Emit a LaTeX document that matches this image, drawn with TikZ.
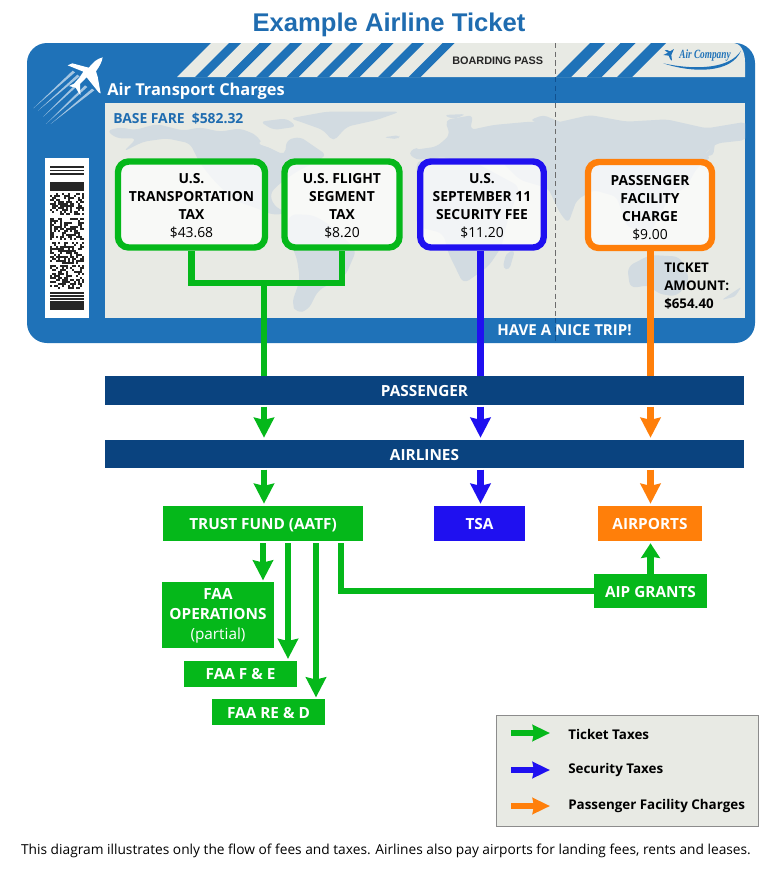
\documentclass[tikz,border=0pt]{standalone}
\usepackage{fontspec}
\usepackage{graphicx}
\setmainfont{Open Sans}
\newfontfamily\arialf{Liberation Sans}
\newfontfamily\logof{Liberation Serif}
\usetikzlibrary{arrows.meta}
\definecolor{tktblue}{HTML}{1F72B8}
\definecolor{cream}{HTML}{E8EAE4}
\definecolor{landc}{HTML}{D2DBE1}
\definecolor{navy}{HTML}{0A437F}
\definecolor{gr}{HTML}{05B81A}
\definecolor{bl}{HTML}{1F10F0}
\definecolor{orng}{HTML}{FF7F0A}
\definecolor{titleblue}{HTML}{1F6CB0}
\newcommand\liftline[1]{\rule{0pt}{#1pt}}
\tikzset{
  boxsize/.style 2 args={minimum width=#1*0.75pt,minimum height=#2*0.75pt,inner sep=0pt},
  chargebox/.style={draw=#1,line width=4.8pt,rounded corners=8pt,fill=white,fill opacity=.72,text opacity=1,
    align=center,font=\fontsize{10.4}{13.5}\selectfont,text=black},
  oneline/.style={text height=9.7pt,text depth=0pt},
  bar/.style={fill=navy,text=white,oneline,font=\bfseries\fontsize{11.5}{13}\selectfont},
  dest/.style={fill=#1,text=white,align=center,font=\bfseries\fontsize{11.5}{15}\selectfont},
  stem/.style={draw=#1,line width=4.6pt},
  flow/.style={draw=#1,line width=5.2pt,-{Stealth[length=15pt,width=15pt,inset=1.6pt]}},
  keyarrow/.style={draw=#1,line width=5pt,-{Stealth[length=13pt,width=12pt,inset=1pt]}},
  txt/.style={inner sep=0pt,anchor=west},
}
\begin{document}
\begin{tikzpicture}[x=0.75pt,y=-0.75pt]
\useasboundingbox (0,0) rectangle (782,876);
\fill[white] (0,0) rectangle (782,876);
\node[font=\arialf\bfseries\fontsize{19.2}{23}\selectfont,text=titleblue,inner sep=0pt] (title) at (389,24.5) {Example Airline Ticket};

% ticket
\fill[tktblue,rounded corners=15pt] (27,43) rectangle (755,343);
% top strip
\fill[cream] (177,77) -- (211,43) -- (733,43) .. controls (741,43) and (745,52) .. (745,62) -- (745,77) -- cycle;
\foreach \k in {0,...,7}{
  \fill[tktblue] ({195+30.5*\k},77) -- ({229+30.5*\k},43) -- ({241+30.5*\k},43) -- ({207+30.5*\k},77) -- cycle;
}
\foreach \k in {0,1,2}{
  \fill[tktblue] ({556+30.5*\k},77) -- ({590+30.5*\k},43) -- ({605+30.5*\k},43) -- ({571+30.5*\k},77) -- cycle;
}
% map panel
\fill[cream] (105,103) rectangle (745,318);
\begin{scope}
\clip (105,103) rectangle (745,318);
\begin{scope}[shift={(100,100)},scale=0.3333]
\fill[landc,rounded corners=4pt]
 (20,92) -- (60,82) -- (105,90) -- (170,72) -- (250,92) -- (300,82) -- (360,95) -- (420,85) -- (470,105)
 -- (480,125) -- (520,150) -- (555,165) -- (560,120) -- (600,110) -- (680,165) -- (640,190) -- (590,215) -- (540,250)
 -- (510,280) -- (520,315) -- (560,340) -- (520,345) -- (470,325) -- (400,300) -- (340,240) -- (300,190) -- (270,130) -- (200,115)
 -- (130,125) -- (70,155) -- (110,115) -- (50,115) -- cycle;
\fill[cream,rounded corners=4pt] (470,130) -- (510,110) -- (555,118) -- (550,160) -- (515,145) -- cycle;
\fill[landc,rounded corners=4pt] (480,65) -- (560,55) -- (590,80) -- (520,90) -- cycle;
% Greenland
\fill[landc,rounded corners=4pt] (570,55) -- (680,35) -- (900,35) -- (830,60) -- (740,80) -- (700,125) -- (670,90) -- (600,65) -- cycle;
\fill[landc,rounded corners=3pt] (850,112) -- (900,105) -- (895,118) -- cycle;
% South America
\fill[landc,rounded corners=5pt] (570,342) -- (640,345) -- (690,375) -- (770,450) -- (735,530) -- (655,570) -- (625,630) -- (590,640) -- (575,610)
 -- (600,540) -- (590,470) -- (555,400) -- cycle;
% Britain etc
\fill[landc,rounded corners=3pt] (925,160) -- (950,140) -- (985,175) -- (950,180) -- cycle;
\end{scope}
\begin{scope}[shift={(420,100)},scale=0.3333]
% Eurasia
\fill[landc,rounded corners=4pt]
 (-20,150) -- (50,140) -- (90,105) -- (75,60) -- (160,45) -- (150,90) -- (220,75) -- (330,65) -- (400,70) -- (510,45)
 -- (620,65) -- (740,58) -- (860,85) -- (980,65) -- (980,120) -- (890,130) -- (850,165) -- (875,170) -- (830,205) -- (800,260)
 -- (750,290) -- (690,400) -- (620,380) -- (590,290) -- (520,270) -- (470,300) -- (445,370) -- (420,340) -- (385,265)
 -- (300,240) -- (240,180) -- (130,185) -- (60,170) -- (20,185) -- cycle;
\fill[landc,rounded corners=4pt] (70,45) -- (140,42) -- (100,58) -- cycle;
\fill[landc,rounded corners=3pt] (330,60) -- (370,45) -- (430,70) -- (370,75) -- cycle;
% Africa
\fill[landc,rounded corners=5pt] (-10,180) -- (170,190) -- (300,260) -- (260,370) -- (245,440) -- (205,500) -- (130,552) -- (110,510) -- (85,460) -- (70,400) -- (-10,380) -- cycle;
\fill[landc,rounded corners=3pt] (258,460) -- (285,450) -- (268,510) -- (248,505) -- cycle;
% Australia
\fill[landc,rounded corners=5pt] (622,500) -- (690,465) -- (780,470) -- (810,540) -- (770,590) -- (710,580) -- (690,555) -- (630,565) -- cycle;
\fill[landc,rounded corners=2pt] (905,600) -- (965,560) -- (945,590) -- cycle;
\fill[landc,rounded corners=2pt] (850,170) -- (885,130) -- (880,165) -- cycle;
\end{scope}
\end{scope}

% dashed perforation
\draw[gray!85!black,line width=.7pt,dash pattern=on 4pt off 2.5pt] (555.5,43) -- (555.5,77) (555.5,103) -- (555.5,318);
\draw[navy!70!tktblue,line width=.7pt,dash pattern=on 4pt off 2.5pt] (555.5,77) -- (555.5,103) (555.5,318) -- (555.5,343);

% plane
\begin{scope}[shift={(30,40)},scale=0.3333]
\foreach \a/\b/\c/\d in {128/92/10/205, 142/104/24/212, 165/136/48/252, 186/146/62/252, 158/112/40/230}{
  \fill[white,opacity=.6] (\a,\b) -- (\c,\d) -- ({\a+7},{\b+5}) -- cycle;
}
\fill[white] (218,52) .. controls (216,66) and (208,80) .. (198,94) -- (203,110) -- (212,160) -- (206,157) -- (170,112) -- (150,132)
 -- (151,165) -- (146,158) -- (137,143) -- (117,138) -- (132,131) -- (148,113) -- (160,95) -- (113,76) -- (127,70) -- (176,83)
 -- (194,64) .. controls (204,57) and (212,53) .. (218,52) -- cycle;
\end{scope}

% barcode
\fill[white] (45,158) rectangle (89,318);
\foreach \y in {166,169.5,173}{\fill[black!85] (50,\y) rectangle (84,{\y+1.8});}
\fill[black!85] (50,182) rectangle (84,191);
\foreach \y in {292,295,298}{\fill[black!85] (50,\y) rectangle (84,{\y+1.6});}
\fill[black!85] (50,301) rectangle (84,310);
\pgfmathsetseed{4711}
\foreach \ya/\yb in {193/214,218/238,242/262,265/287}{
  \pgfmathtruncatemacro\yc{\ya+2}
  \foreach \cx in {50,52,...,82}{
    \foreach \cy in {\ya,\yc,...,\yb}{
      \pgfmathtruncatemacro\hit{rnd<0.55?1:0}
      \ifnum\hit=1\relax\fill[black!85] (\cx,\cy) rectangle ({\cx+2},{\cy+2});\fi
    }
  }
}

% ticket texts
\node[txt,text=white,font=\bfseries\fontsize{12.3}{15}\selectfont] (head) at (107,91.5) {Air Transport Charges};
\node[txt,text=titleblue,font=\bfseries\fontsize{10.4}{12}\selectfont] (fare) at (113,118.5) {BASE FARE\ \ \$582.32};
\node[txt,text=black!85,font=\arialf\bfseries\fontsize{8.15}{10}\selectfont] (bp) at (452,60.5) {BOARDING PASS};
\node[text=white,font=\bfseries\fontsize{11.3}{13}\selectfont,inner sep=0pt] (nice) at (564.5,330.5) {HAVE A NICE TRIP!};
\node[txt,text=black,align=left,font=\bfseries\fontsize{10}{13.5}\selectfont] (amt) at (664,286) {TICKET\\AMOUNT:\\\$654.40};

% logo
\begin{scope}[shift={(600,40)},scale=0.3333]
\fill[tktblue] (222,27) -- (214,45) -- (216,62) -- (211,58) -- (206,47) -- (190,45) -- (204,38) -- (194,31) -- (201,30) -- (210,34) -- cycle;
\fill[tktblue] (190,70) .. controls (290,92) and (390,85) .. (423,32) .. controls (395,100) and (280,100) .. (190,70) -- cycle;
\end{scope}
\node[text=tktblue,inner sep=0pt,font=\logof\itshape\bfseries\fontsize{9.4}{11}\selectfont] (logo) at (705,55) {\scalebox{.74}[1]{Air Company}};

% charge boxes
\node[chargebox=gr,boxsize={147}{86}] (usta) at (191.5,204.5) {\liftline{10}\textbf{U.S.}\\\textbf{TRANSPORTATION}\\\textbf{TAX}\\\$43.68};
\node[chargebox=gr,boxsize={115}{86}] (seg) at (342,204.5) {\liftline{10}\textbf{U.S. FLIGHT}\\\textbf{SEGMENT}\\\textbf{TAX}\\\$8.20};
\node[chargebox=bl,boxsize={123.5}{86}] (sec) at (482,204.5) {\liftline{10}\textbf{U.S.}\\\textbf{SEPTEMBER 11}\\\textbf{SECURITY FEE}\\\$11.20};
\node[chargebox=orng,boxsize={124}{86}] (pfc) at (650,205) {\liftline{11.5}\textbf{PASSENGER}\\\textbf{FACILITY}\\\textbf{CHARGE}\\\$9.00};

% bars
\node[bar,boxsize={639}{29}] (pax) at (424.5,390.5) {PASSENGER};
\node[bar,boxsize={639}{28}] (air) at (424.5,454) {AIRLINES};

% destinations
\node[dest=gr,oneline,boxsize={200}{35}] (trust) at (263,523.5) {TRUST FUND (AATF)};
\node[dest=bl,oneline,boxsize={91}{35}] (tsa) at (479.5,523.5) {TSA};
\node[dest=orng,oneline,boxsize={104}{35}] (apt) at (650,523.5) {AIRPORTS};
\node[dest=gr,oneline,boxsize={113}{34}] (aip) at (650.5,591) {AIP GRANTS};
\node[dest=gr,boxsize={112}{66}] (ops) at (218,615) {\liftline{9.5}FAA\\OPERATIONS\\{\mdseries(partial)}};
\node[dest=gr,oneline,boxsize={113}{26}] (fe) at (240.5,673.5) {FAA F \& E};
\node[dest=gr,oneline,boxsize={113}{26}] (red) at (268.5,712) {FAA RE \& D};

% channel coordinates
\coordinate (gx) at (264,0);
\coordinate (bx) at (480.5,0);
\coordinate (ox) at (650.5,0);
\coordinate (jn) at (264,283);
\coordinate (c1) at (263,0);
\coordinate (c2) at (288,0);
\coordinate (c3) at (316,0);
\coordinate (c4) at (341,0);
\coordinate (gap) at (0,543);

% connectors
\draw[stem=gr,line join=miter] (usta.south) |- (jn) -| (seg.south);
\draw[stem=gr] (jn) -- (pax.north -| gx);
\draw[stem=bl,line width=5.2pt] (sec.south -| bx) -- (pax.north -| bx);
\draw[stem=orng,line width=5.2pt] (pfc.south -| ox) -- (pax.north -| ox);

\draw[flow=gr] ([yshift=-1pt]pax.south -| gx) -- ([yshift=1.5pt]air.north -| gx);
\draw[flow=bl] ([yshift=-1pt]pax.south -| bx) -- ([yshift=1.5pt]air.north -| bx);
\draw[flow=orng] ([yshift=-1pt]pax.south -| ox) -- ([yshift=1.5pt]air.north -| ox);
\draw[flow=gr] ([yshift=-1pt]air.south -| gx) -- ([yshift=1.5pt]trust.north -| gx);
\draw[flow=bl] ([yshift=-1pt]air.south -| bx) -- ([yshift=1.5pt]tsa.north -| bx);
\draw[flow=orng] ([yshift=-1pt]air.south -| ox) -- ([yshift=1.5pt]apt.north -| ox);

\draw[flow=gr] (gap -| c1) -- ([yshift=1pt]ops.north -| c1);
\draw[flow=gr,line width=4.6pt] (gap -| c2) -- ([yshift=1pt]fe.north -| c2);
\draw[flow=gr,line width=4.6pt] (gap -| c3) -- ([yshift=1pt]red.north -| c3);
\draw[stem=gr,line join=miter] (gap -| c4) |- (aip.west);
\draw[draw=gr,line width=5pt,-{Stealth[length=11pt,width=14pt,inset=1pt]}] (aip.north -| ox) -- ([yshift=-1.5pt]apt.south -| ox);

% legend
\node[draw=black!45,line width=1.3pt,fill=cream,boxsize={262}{111}] (legend) at (627.5,771) {};
\coordinate (k1a) at (511,733); \coordinate (k1b) at (550,733);
\coordinate (k2a) at (511,770); \coordinate (k2b) at (550,770);
\coordinate (k3a) at (511,806); \coordinate (k3b) at (550,806);
\draw[keyarrow=gr] (k1a) -- (k1b);
\draw[keyarrow=bl] (k2a) -- (k2b);
\draw[keyarrow=orng] (k3a) -- (k3b);
\node[txt,font=\bfseries\fontsize{10.05}{12}\selectfont] (l1) at (568,734) {Ticket Taxes};
\node[txt,font=\bfseries\fontsize{10.05}{12}\selectfont] (l2) at (568,770.5) {Security Taxes};
\node[txt,font=\bfseries\fontsize{10.05}{12}\selectfont] (l3) at (568,806.5) {Passenger Facility Charges};

\node[inner sep=0pt,font=\fontsize{10.3}{12}\selectfont] (cap) at (386,850.5) {This diagram illustrates only the flow of fees and taxes. Airlines also pay airports for landing fees, rents and leases.};
\end{tikzpicture}
\end{document}
